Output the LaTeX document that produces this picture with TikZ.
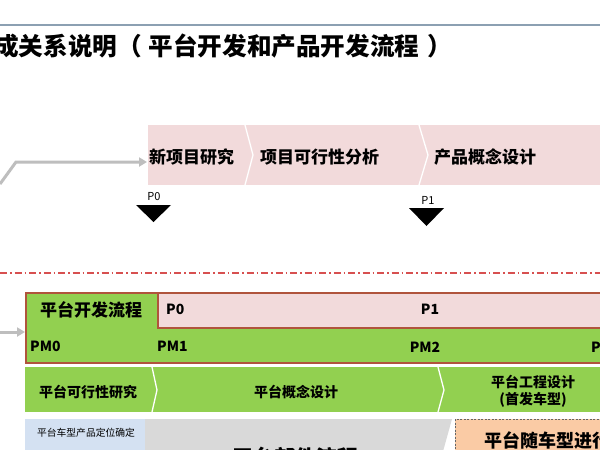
\documentclass[tikz,border=0pt]{standalone}
\usepackage{fontspec}
\setmainfont{Noto Sans CJK SC}
\usetikzlibrary{arrows.meta}
\definecolor{pinkband}{RGB}{242,218,219}
\definecolor{pgreen}{RGB}{146,208,80}
\definecolor{brownc}{RGB}{176,84,60}
\definecolor{pblue}{RGB}{212,225,242}
\definecolor{pgray}{RGB}{217,217,217}
\definecolor{porange}{RGB}{250,203,165}
\definecolor{arrgray}{RGB}{190,190,190}
\definecolor{topline}{RGB}{140,160,178}
\definecolor{ddred}{RGB}{215,80,80}
\newcommand{\fs}[1]{\fontsize{#1}{#1}\selectfont}
\begin{document}
\begin{tikzpicture}[x=1pt,y=-1pt,
  txt/.style={inner sep=0pt, font=\bfseries\fs{#1}},
  txt/.default=17,
  small/.style={inner sep=0pt, font=\fs{#1}},
  grayarr/.style={draw=arrgray, line width=3pt, -{Triangle[length=8pt,width=9pt]}},
  sep/.style={draw=white, line width=1.3pt},
  bbox/.style={draw=brownc, line width=1.8pt, inner sep=0pt, anchor=north west}]
\useasboundingbox (0,0) rectangle (600,450);
\clip (0,0) rectangle (600,450);
\fill[white] (0,0) rectangle (600,450);
% header
\draw[topline, line width=1.5pt] (0,25) -- (600,25);
\node[txt=24.6, anchor=west] (title) at (-6,46) {成关系说明（\hspace{7pt}平台开发和产品开发流程\hspace{8pt}）};
% product band
\fill[pinkband] (148,125) rectangle (600,185);
\draw[sep] (245,125) -- (253,155) -- (245,185);
\draw[sep] (419,125) -- (428,155) -- (419,185);
\node[txt, anchor=west] (n1) at (149,157) {新项目研究};
\node[txt, anchor=west] (n2) at (260,157) {项目可行性分析};
\node[txt, anchor=west] (n3) at (434,157) {产品概念设计};
\coordinate (s0) at (0,184);
\coordinate (k0) at (16,162);
\draw[grayarr, shorten >=2pt] (s0) -- (k0) -- (k0 -| n1.west);
% gates
\fill (136,205) -- (171,205) -- (153.5,222) -- cycle;
\node[small=11] (p0) at (154,197) {P0};
\fill (409,208) -- (444,208) -- (426.5,226) -- cycle;
\node[small=11] (p1) at (428,200) {P1};
% separator line
\draw[ddred, line width=1.2pt, dash pattern=on 7pt off 3pt on 1.5pt off 3pt] (0,273) -- (600,273);
% platform box
\node[bbox, fill=pgreen, minimum width=585pt, minimum height=70pt] (pbox) at (25,292) {};
\node[bbox, fill=pinkband, minimum width=450pt, minimum height=35pt] (ppink) at (157,292) {};
\node[txt] (pt) at (91,310) {平台开发流程};
\node[txt=14, anchor=west] (pp0) at (166,309) {P0};
\node[txt=14] (pp1) at (430,309) {P1};
\node[txt=14, anchor=west] (pm0) at (30,346) {PM0};
\node[txt=14, anchor=west] (pm1) at (157,346) {PM1};
\node[txt=14] (pm2) at (425,347) {PM2};
\node[txt=14, anchor=west] (pm3) at (591,347) {PM3};
\coordinate (s1) at (0,332);
\draw[grayarr] (s1) -- (s1 -| pbox.west);
% row 2
\fill[pgreen] (25,367) rectangle (600,412);
\draw[sep] (152,367) -- (157,390) -- (152,412);
\draw[sep] (438,367) -- (444,390) -- (438,412);
\node[txt=14] (r1) at (88,392) {平台可行性研究};
\node[txt=14] (r2) at (296,392) {平台概念设计};
\node[txt=14] (r3) at (533,382) {平台工程设计};
\node[txt=14] (r3b) at (533,400) {(首发车型)};
% row 3
\fill[pblue] (25,419) rectangle (145,455);
\fill[pgray] (145,419) -- (452,419) -- (442,455) -- (145,455) -- cycle;
\draw[draw=black!60, line width=0.8pt, dash pattern=on 2pt off 1.5pt, fill=porange] (455,419) rectangle (610,460);
\node[small=9.8] (b1) at (86,433) {平台车型产品定位确定};
\node[txt=21] (b2) at (295,457) {平台部件流程};
\node[txt=18, anchor=west] (b3) at (484,440) {平台随车型进行开发};
\end{tikzpicture}
\end{document}
